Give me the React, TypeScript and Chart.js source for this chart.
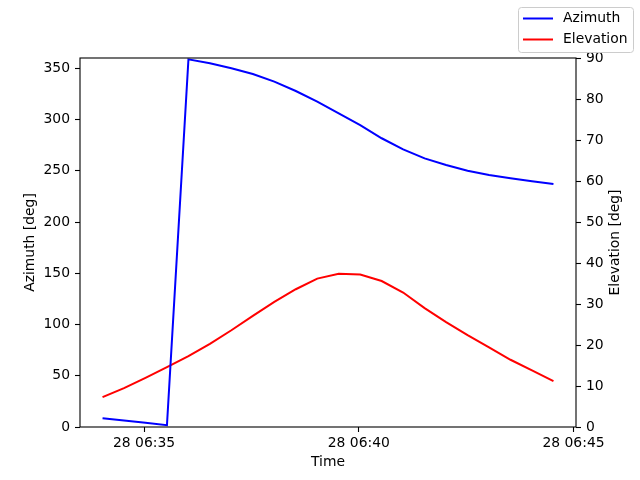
import { useEffect, useRef } from "react";
import { Chart, registerables } from "chart.js";

Chart.register(...registerables);

// Sample times (UTC, day 28)
const times = [
  "06:34:02", "06:34:32", "06:35:02", "06:35:32", "06:36:02", "06:36:32",
  "06:37:02", "06:37:32", "06:38:02", "06:38:32", "06:39:02", "06:39:32",
  "06:40:02", "06:40:32", "06:41:02", "06:41:32", "06:42:02", "06:42:32",
  "06:43:02", "06:43:32", "06:44:02", "06:44:32",
];

// Azimuth [deg]
const azimuth = [
  8.5, 6.4, 4.2, 1.8, 358.7, 354.8, 350.0, 344.4, 336.9, 327.8, 317.4,
  306.0, 294.6, 281.7, 270.9, 262.1, 255.6, 250.0, 245.9, 242.6, 239.7, 237.0,
];

// Elevation [deg]
const elevation = [
  7.3, 9.5, 12.0, 14.6, 17.3, 20.3, 23.6, 27.1, 30.5, 33.6, 36.2,
  37.4, 37.2, 35.6, 32.8, 29.0, 25.6, 22.4, 19.4, 16.4, 13.8, 11.2,
];

const xTickTimes = ["06:35:00", "06:40:00", "06:45:00"];
const xTickLabels = ["28 06:35", "28 06:40", "28 06:45"];
const azTicks = [0, 50, 100, 150, 200, 250, 300, 350];
const elTicks = [0, 10, 20, 30, 40, 50, 60, 70, 80, 90];

const toSec = (t: string) => {
  const [h, m, s] = t.split(":").map(Number);
  return h * 3600 + m * 60 + s;
};

const FONT = "'DejaVu Sans', sans-serif";
const FS = 13.9;

const framePlugin = {
  id: "frameAndLabels",
  afterDraw(chart: any) {
    const ctx = chart.ctx as CanvasRenderingContext2D;
    const { left, right, top, bottom } = chart.chartArea;
    ctx.save();
    // frame
    ctx.strokeStyle = "#000";
    ctx.lineWidth = 1.1;
    ctx.strokeRect(left, top, right - left, bottom - top);

    // axis titles
    ctx.fillStyle = "#000";
    ctx.font = `${FS}px ${FONT}`;
    ctx.textAlign = "center";
    ctx.textBaseline = "middle";
    const cy = (top + bottom) / 2;
    ctx.save();
    ctx.translate(30, cy);
    ctx.rotate(-Math.PI / 2);
    ctx.fillText("Azimuth [deg]", 0, 0);
    ctx.restore();
    ctx.save();
    ctx.translate(615, cy);
    ctx.rotate(-Math.PI / 2);
    ctx.fillText("Elevation [deg]", 0, 0);
    ctx.restore();
    ctx.fillText("Time", (left + right) / 2, 462);

    // legend
    const lx = 518.5, ly = 7.5, lw = 115, lh = 45, r = 3;
    ctx.beginPath();
    ctx.moveTo(lx + r, ly);
    ctx.lineTo(lx + lw - r, ly);
    ctx.arcTo(lx + lw, ly, lx + lw, ly + r, r);
    ctx.lineTo(lx + lw, ly + lh - r);
    ctx.arcTo(lx + lw, ly + lh, lx + lw - r, ly + lh, r);
    ctx.lineTo(lx + r, ly + lh);
    ctx.arcTo(lx, ly + lh, lx, ly + lh - r, r);
    ctx.lineTo(lx, ly + r);
    ctx.arcTo(lx, ly, lx + r, ly, r);
    ctx.closePath();
    ctx.fillStyle = "rgba(255,255,255,0.8)";
    ctx.fill();
    ctx.strokeStyle = "#cccccc";
    ctx.lineWidth = 1;
    ctx.stroke();

    const items = chart.data.datasets.map((d: any) => [d.label, d.borderColor]);
    items.forEach(([label, color]: [string, string], i: number) => {
      const y = 18.5 + i * 21;
      ctx.strokeStyle = color;
      ctx.lineWidth = 2;
      ctx.beginPath();
      ctx.moveTo(523, y);
      ctx.lineTo(553, y);
      ctx.stroke();
      ctx.fillStyle = "#000";
      ctx.textAlign = "left";
      ctx.textBaseline = "middle";
      ctx.fillText(label, 563, y);
    });
    ctx.restore();
  },
};

export default function App() {
  const ref = useRef<HTMLCanvasElement>(null);

  useEffect(() => {
    if (!ref.current) return;
    const xs = times.map(toSec);
    const span = xs[xs.length - 1] - xs[0];
    const xmin = xs[0] - 0.05 * span;
    const xmax = xs[xs.length - 1] + 0.05 * span;
    const xTicks = xTickTimes.map(toSec);

    const tickFont = { family: FONT, size: FS };
    const gridCommon = {
      drawOnChartArea: false,
      tickLength: 5,
      color: "#000",
      tickWidth: 1.1,
    };

    const chart = new Chart(ref.current, {
      type: "line",
      data: {
        datasets: [
          {
            label: "Azimuth",
            data: xs.map((x, i) => ({ x, y: azimuth[i] })),
            borderColor: "#0000ff",
            backgroundColor: "#0000ff",
            yAxisID: "y",
          },
          {
            label: "Elevation",
            data: xs.map((x, i) => ({ x, y: elevation[i] })),
            borderColor: "#ff0000",
            backgroundColor: "#ff0000",
            yAxisID: "y1",
          },
        ],
      },
      plugins: [framePlugin],
      options: {
        animation: false,
        responsive: false,
        maintainAspectRatio: false,
        layout: { padding: { top: 58, left: 0, right: 0, bottom: 0 } },
        plugins: { legend: { display: false }, tooltip: { enabled: false } },
        elements: {
          point: { radius: 0, hoverRadius: 0 },
          line: { borderWidth: 2, tension: 0 },
        },
        scales: {
          x: {
            type: "linear",
            min: xmin,
            max: xmax,
            afterBuildTicks: (s: any) => {
              s.ticks = xTicks.map((v) => ({ value: v }));
            },
            afterFit: (s: any) => {
              s.height = 53;
            },
            ticks: {
              callback: (v: any) => xTickLabels[xTicks.indexOf(Number(v))] ?? "",
              color: "#000",
              font: tickFont,
              padding: 3,
              maxRotation: 0,
              autoSkip: false,
            },
            grid: gridCommon,
            border: { display: false },
          },
          y: {
            type: "linear",
            position: "left",
            min: 0,
            max: 360,
            afterBuildTicks: (s: any) => {
              s.ticks = azTicks.map((v) => ({ value: v }));
            },
            afterFit: (s: any) => {
              s.width = 80;
            },
            ticks: { color: "#000", font: tickFont, padding: 5, autoSkip: false },
            grid: gridCommon,
            border: { display: false },
          },
          y1: {
            type: "linear",
            position: "right",
            min: 0,
            max: 90,
            afterBuildTicks: (s: any) => {
              s.ticks = elTicks.map((v) => ({ value: v }));
            },
            afterFit: (s: any) => {
              s.width = 64;
            },
            ticks: { color: "#000", font: tickFont, padding: 5, autoSkip: false },
            grid: gridCommon,
            border: { display: false },
          },
        },
      },
    } as any);
    return () => chart.destroy();
  }, []);

  return (
    <div style={{ position: "absolute", left: 0, top: 0, width: 640, height: 480, background: "#fff" }}>
      <canvas ref={ref} width={640} height={480} style={{ width: 640, height: 480, display: "block" }} />
    </div>
  );
}
